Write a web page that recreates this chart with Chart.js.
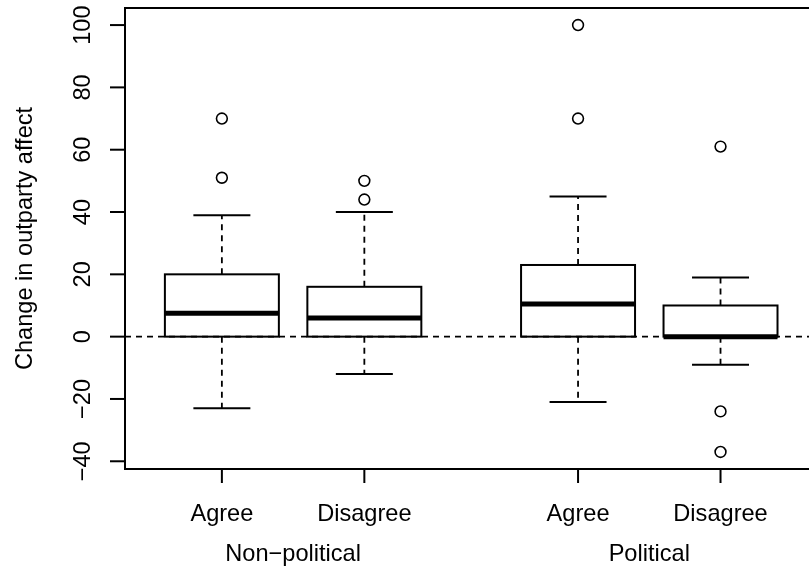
<!DOCTYPE html>
<html>
<head>
<meta charset="utf-8">
<script src="https://cdn.jsdelivr.net/npm/chart.js@4"></script>
<style>
  html, body { margin: 0; padding: 0; overflow: hidden; background: #fff; }
  #wrap { width: 830px; height: 571px; }
</style>
</head>
<body>
<div id="wrap"><canvas id="c" width="830" height="571"></canvas></div>
<script>
// Box plot summaries per condition (values in outparty affect points)
const categories = ["Agree", "Disagree", "Agree", "Disagree"];
const groups = ["Non\u2212political", "Political"];
const groupOf = [0, 0, 1, 1];
const lowerWhisker = [-23, -12, -21, -9];
const lowerQuartile = [0, 0, 0, 0];
const medians = [7.5, 6, 10.5, 0];
const upperQuartile = [20, 16, 23, 10];
const upperWhisker = [39, 40, 45, 19];
const outliers = [[70, 51], [50, 44], [100, 70], [61, -24, -37]];
const yTicks = [-40, -20, 0, 20, 40, 60, 80, 100];
const yTitle = "Change in outparty affect";

// Boxes sit at 1, 2 and, after a half-slot gap between groups, 3.5, 4.5
const slot = categories.map((_, i) => i + 1 + groupOf[i] * 0.5);

const FONT = '23.6px "Liberation Sans", Arial, Helvetica, sans-serif';
const fmt = v => (v < 0 ? "\u2212" + Math.abs(v) : String(v));

const outlierPoints = [];
outliers.forEach((list, i) => list.forEach(v => outlierPoints.push({ x: slot[i], y: v })));

function line(ctx, x1, y1, x2, y2) {
  ctx.beginPath();
  ctx.moveTo(x1, y1);
  ctx.lineTo(x2, y2);
  ctx.stroke();
}

const boxPlot = {
  id: "boxPlot",
  beforeDatasetsDraw(chart) {
    const { ctx, scales: { x, y } } = chart;
    ctx.save();
    ctx.strokeStyle = "#000";
    categories.forEach((_, i) => {
      const cx = x.getPixelForValue(slot[i]);
      const bl = x.getPixelForValue(slot[i] - 0.4);
      const br = x.getPixelForValue(slot[i] + 0.4);
      const sl = x.getPixelForValue(slot[i] - 0.2);
      const sr = x.getPixelForValue(slot[i] + 0.2);
      const yLo = y.getPixelForValue(lowerWhisker[i]);
      const yQ1 = y.getPixelForValue(lowerQuartile[i]);
      const yMed = y.getPixelForValue(medians[i]);
      const yQ3 = y.getPixelForValue(upperQuartile[i]);
      const yHi = y.getPixelForValue(upperWhisker[i]);
      // whiskers
      ctx.lineWidth = 1.8;
      ctx.setLineDash([6, 5]);
      line(ctx, cx, yQ3, cx, yHi);
      line(ctx, cx, yQ1, cx, yLo);
      ctx.setLineDash([]);
      // staples
      ctx.lineWidth = 2;
      line(ctx, sl, yHi, sr, yHi);
      line(ctx, sl, yLo, sr, yLo);
      // box
      ctx.strokeRect(bl, yQ3, br - bl, yQ1 - yQ3);
      // median
      ctx.lineWidth = 5;
      ctx.lineCap = "butt";
      line(ctx, bl, yMed, br, yMed);
    });
    ctx.restore();
  },
  afterDatasetsDraw(chart) {
    const { ctx, chartArea: a, scales: { x, y } } = chart;
    ctx.save();
    ctx.strokeStyle = "#000";
    ctx.fillStyle = "#000";
    // reference line at zero
    ctx.lineWidth = 1.6;
    ctx.setLineDash([6, 5]);
    const y0 = y.getPixelForValue(0);
    line(ctx, a.left, y0, a.right, y0);
    ctx.setLineDash([]);
    // plot frame
    ctx.lineWidth = 2;
    ctx.strokeRect(a.left, a.top, a.right - a.left, a.bottom - a.top);
    // y axis ticks and labels
    ctx.font = FONT;
    ctx.textAlign = "center";
    ctx.textBaseline = "alphabetic";
    yTicks.forEach(t => {
      const py = y.getPixelForValue(t);
      line(ctx, a.left - 15, py, a.left, py);
      ctx.save();
      ctx.translate(a.left - 35.5, py);
      ctx.rotate(-Math.PI / 2);
      ctx.fillText(fmt(t), 0, 0);
      ctx.restore();
    });
    // y axis title
    ctx.save();
    ctx.translate(31.5, (a.top + a.bottom) / 2);
    ctx.rotate(-Math.PI / 2);
    ctx.fillText(yTitle, 0, 0);
    ctx.restore();
    // x axis ticks and category labels
    categories.forEach((c, i) => {
      const px = x.getPixelForValue(slot[i]);
      line(ctx, px, a.bottom, px, a.bottom + 14);
      ctx.fillText(c, px, a.bottom + 52);
    });
    // group labels
    groups.forEach((g, gi) => {
      const members = slot.filter((_, i) => groupOf[i] === gi);
      const mid = members.reduce((s, v) => s + v, 0) / members.length;
      ctx.fillText(g, x.getPixelForValue(mid), a.bottom + 92);
    });
    ctx.restore();
  }
};

new Chart(document.getElementById("c"), {
  type: "scatter",
  data: {
    datasets: [{
      data: outlierPoints,
      pointRadius: 5.4,
      pointHoverRadius: 5.4,
      pointBorderWidth: 1.6,
      borderColor: "#000",
      backgroundColor: "rgba(0,0,0,0)",
      pointBackgroundColor: "rgba(0,0,0,0)",
      pointBorderColor: "#000"
    }]
  },
  options: {
    responsive: false,
    animation: false,
    devicePixelRatio: 1,
    layout: { padding: { left: 125, top: 8, right: 12.6, bottom: 102 } },
    scales: {
      x: { type: "linear", min: 0.32, max: 5.18, display: false },
      y: { type: "linear", min: -42.48, max: 105.48, display: false }
    },
    plugins: { legend: { display: false }, tooltip: { enabled: false } },
    events: []
  },
  plugins: [boxPlot]
});
</script>
</body>
</html>
